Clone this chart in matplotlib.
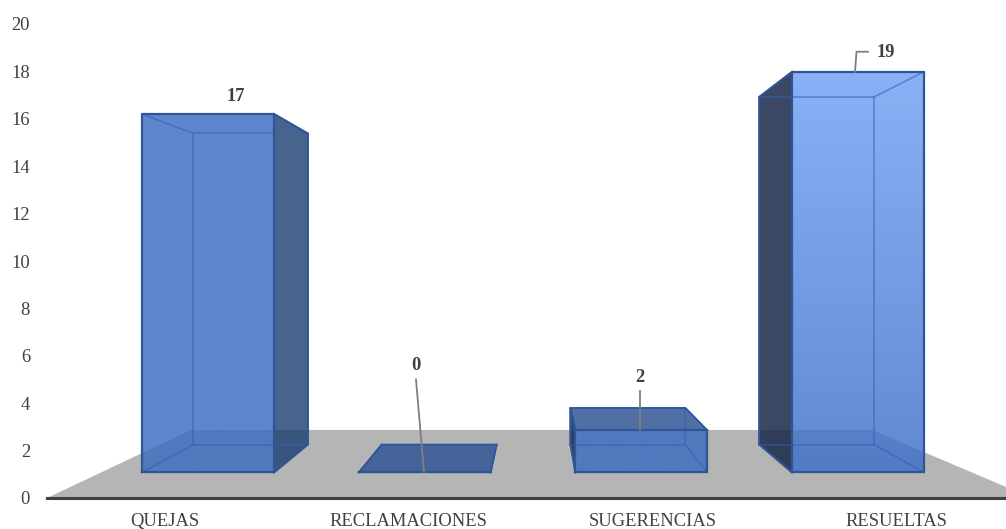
import matplotlib
matplotlib.use('Agg')
import matplotlib.pyplot as plt
import numpy as np
from matplotlib.patches import Polygon

categories = ['QUEJAS', 'RECLAMACIONES', 'SUGERENCIAS', 'RESUELTAS']
values = [17, 0, 2, 19]
label_pos = [165, 408, 653, 896]
yticks = np.arange(0, 21, 2)

# gradient ends of the front faces
top_colors = [(58, 108, 193), (58, 108, 193), (58, 108, 193), (112, 160, 245)]
bottom_colors = [(58, 108, 193), (58, 108, 193), (58, 108, 193), (62, 110, 200)]

# where the value labels sit, x and y on the axes scale
value_label_x = [236, 416, 640, 886]
value_label_y = [16.95, 5.6, 5.1, 18.78]
leader_end_x = [236, 424, 640, 855]

# perspective of the boxes
first_center = 208
spacing = 216.7
half_width = 66
vanish_x = 537
depth_k = 0.871
front_base, front_scale = 1.076, 0.890
back_base, back_scale = 2.257, 0.772

TEXT = '#404040'
SERIF = 'Liberation Serif'
FONT_SIZE = 13.3

fig = plt.figure(figsize=(10.06, 5.29), dpi=100)
ax = fig.add_axes([47 / 1006, (529 - 498) / 529, (1006 - 47) / 1006, (498 - 24) / 529])


def rgb(c):
    return tuple(v / 255 for v in c)


def box_corners(i, value):
    c = first_center + spacing * i
    xl, xr = c - half_width, c + half_width
    bl = vanish_x + depth_k * (xl - vanish_x)
    br = vanish_x + depth_k * (xr - vanish_x)
    y0 = front_base
    y1 = front_base + value * front_scale
    b0 = back_base
    b1 = back_base + value * back_scale
    return xl, xr, bl, br, y0, y1, b0, b1


# floor
ax.add_patch(Polygon([(47, 0), (1032, 0), (872, 2.87), (191, 2.87)],
                     closed=True, fc='#B5B5B5', ec='none', zorder=1))

for i, v in enumerate(values):
    xl, xr, bl, br, y0, y1, b0, b1 = box_corners(i, v)
    z = 2 + i * 0.1

    # lid, only seen from above on the low boxes
    if b1 > y1:
        ax.add_patch(Polygon([(xl, y1), (xr, y1), (br, b1), (bl, b1)], closed=True,
                             fc=rgb((48, 86, 150)), alpha=0.85, ec='none', zorder=z))

    # side faces that face the viewer
    if v > 0 and br > xr:
        ax.add_patch(Polygon([(xr, y0), (br, b0), (br, b1), (xr, y1)], closed=True,
                             fc=rgb((26, 61, 111)), alpha=0.8, ec='none', zorder=z))
    if v > 0 and bl < xl:
        ax.add_patch(Polygon([(xl, y0), (bl, b0), (bl, b1), (xl, y1)], closed=True,
                             fc=rgb((24, 40, 73)), alpha=0.85, ec='none', zorder=z))

    # front face with its gradient
    if v > 0:
        grad = np.linspace(top_colors[i], bottom_colors[i], 256) / 255
        grad = grad.reshape(256, 1, 3)
        im = ax.imshow(grad, extent=(xl, xr, y0, y1), aspect='auto', alpha=0.82,
                       zorder=z + 0.01, interpolation='bilinear')
        clip = Polygon([(xl, y0), (xr, y0), (xr, y1), (xl, y1)], closed=True,
                       transform=ax.transData)
        im.set_clip_path(clip)

    # inner edges, seen through the front
    inner = '#2F62B8'
    ax.plot([bl, br, br, bl, bl], [b0, b0, b1, b1, b0], color=inner, lw=1.1, alpha=0.6,
            zorder=z + 0.02)
    for fx, fy, bx, by in [(xl, y0, bl, b0), (xr, y0, br, b0), (xl, y1, bl, b1), (xr, y1, br, b1)]:
        ax.plot([fx, bx], [fy, by], color=inner, lw=1.1, alpha=0.6, zorder=z + 0.02)

    # outer edges
    edge = '#2F5597'
    ax.plot([xl, xr, xr, xl, xl], [y0, y0, y1, y1, y0], color=edge, lw=1.6, zorder=z + 0.03)
    if v > 0 and br > xr:
        ax.plot([xr, br, br, xr], [y0, b0, b1, y1], color=edge, lw=1.4, zorder=z + 0.03)
    if v > 0 and bl < xl:
        ax.plot([xl, bl, bl, xl], [y0, b0, b1, y1], color=edge, lw=1.4, zorder=z + 0.03)
    if b1 > y1:
        ax.plot([xl, bl, br, xr], [y1, b1, b1, y1], color=edge, lw=1.2, zorder=z + 0.03)

    # value label and its leader line
    lx, ly = value_label_x[i], value_label_y[i]
    ax.text(lx, ly, str(v), family=SERIF, fontsize=FONT_SIZE, fontweight='bold', color=TEXT,
            ha='center', va='center', zorder=6)
    end_x = leader_end_x[i]
    if v == 19:
        ax.plot([lx - 18, end_x + 1.5, end_x], [ly + 0.05, ly + 0.05, y1], color='#7F7F7F',
                lw=1.3, zorder=5)
    elif v != 17:
        ax.plot([lx, end_x], [ly - 0.6, y1], color='#7F7F7F', lw=1.3, zorder=5)

ax.set_xlim(47, 1006)
ax.set_ylim(0, 20)
ax.set_yticks(yticks)
ax.set_xticks(label_pos)
ax.set_xticklabels(categories, family=SERIF, fontsize=FONT_SIZE, color=TEXT)
for t in ax.get_yticklabels():
    t.set_family(SERIF)
    t.set_fontsize(FONT_SIZE)
    t.set_color(TEXT)
ax.tick_params(axis='both', length=0)
ax.tick_params(axis='x', pad=10.5)
ax.tick_params(axis='y', pad=12.2)

for side in ['top', 'left', 'right']:
    ax.spines[side].set_visible(False)
ax.spines['bottom'].set_color('#404040')
ax.spines['bottom'].set_linewidth(2.2)
ax.spines['bottom'].set_zorder(4)

plt.savefig('out.png', dpi=100)
